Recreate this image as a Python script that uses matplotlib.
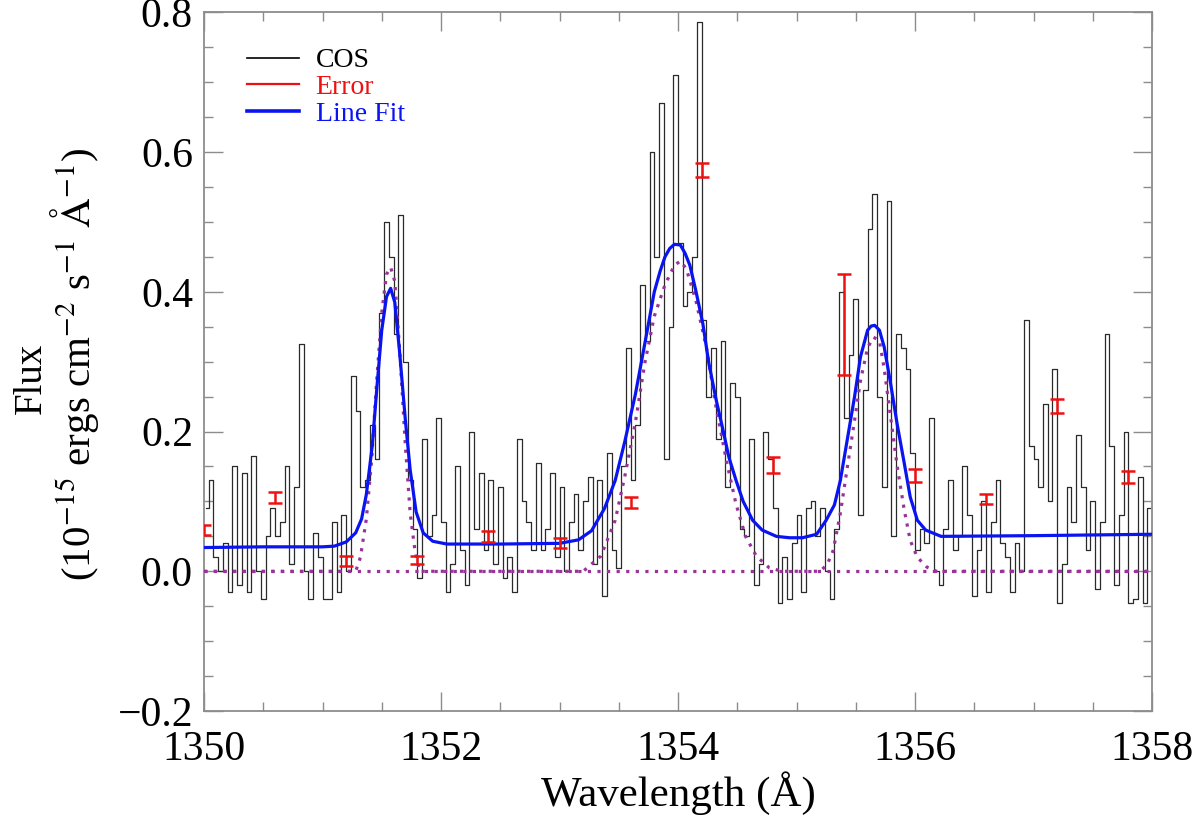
import numpy as np
import matplotlib
matplotlib.use('Agg')
import matplotlib.pyplot as plt
from matplotlib.lines import Line2D
from matplotlib.ticker import MultipleLocator, FuncFormatter

plt.rcParams['font.family'] = ['Liberation Serif', 'DejaVu Serif']
plt.rcParams['mathtext.fontset'] = 'stix'

# COS spectrum, 0.04 A bins (bin centres)
cos_wave = np.round(1350.02 + 0.04 * np.arange(200), 2)
cos_flux = [
    0.09, 0.13, 0.02, 0.0, 0.04, -0.03, 0.15, -0.02, 0.14, -0.03,
    0.165, 0.0, -0.04, 0.05, 0.09, 0.05, 0.07, 0.15, 0.01, 0.12,
    0.325, 0.0, -0.04, 0.055, 0.02, -0.04, -0.04, 0.07, -0.03, 0.08,
    0.0, 0.28, 0.23,
    0.12, 0.13, 0.21, 0.16, 0.37, 0.50, 0.45,
    0.34, 0.51, 0.30, 0.13, 0.06, -0.01, 0.19, 0.05, 0.08, 0.22,
    0.07, -0.03, 0.01, 0.15, 0.03, -0.02, 0.20, 0.06, 0.14, 0.03,
    0.13, 0.01, 0.12, -0.01, 0.02, -0.03, 0.19,
    0.10, 0.07, 0.03,
    0.155, 0.03, 0.06, 0.14, 0.02, 0.12, 0.0, 0.07, 0.11, 0.03,
    0.10, 0.135, 0.01, 0.13, -0.035, 0.17, 0.03, 0.005, 0.15, 0.32,
    0.13, 0.21, 0.41, 0.33, 0.60, 0.45, 0.67, 0.16, 0.35, 0.71,
    0.47, 0.38, 0.40, 0.45, 0.786, 0.36, 0.25, 0.32, 0.19, 0.33,
    0.12, 0.27, 0.25, 0.06, 0.05, 0.19, -0.02, 0.01, 0.20, 0.16,
    0.09, -0.045, 0.02, -0.04, 0.04, 0.08, -0.03, 0.09, 0.10, 0.05,
    0.09, 0.0, -0.04, 0.06,
    0.40, 0.22, 0.31, 0.39, 0.08, 0.26,
    0.49, 0.54, 0.25, 0.12, 0.53, 0.05, 0.34, 0.32, 0.29, 0.17,
    0.03, 0.06, 0.04, 0.22, 0.0, -0.02, 0.06, 0.13, 0.03, 0.05,
    0.15, 0.08, -0.035, 0.03, 0.10, -0.03, 0.07,
    0.13, 0.04, 0.02,
    -0.03, 0.04, 0.0, 0.36, 0.18, 0.16, 0.12, 0.24, 0.10, 0.29,
    -0.045, 0.01, 0.12, 0.07, 0.195, 0.12, 0.03, 0.10, -0.025, 0.07,
    0.34, 0.18, -0.02, 0.08, 0.20, -0.045, -0.04, 0.135, -0.045, 0.09,
]

# error bars
err_wave = [1350.0, 1350.6, 1351.2, 1351.8, 1352.4, 1353.0, 1353.6,
            1354.2, 1354.8, 1355.4, 1356.0, 1356.6, 1357.2, 1357.8]
err_flux = [0.059, 0.106, 0.015, 0.016, 0.050, 0.041, 0.098,
            0.575, 0.152, 0.353, 0.137, 0.104, 0.236, 0.135]
err_size = [0.007, 0.008, 0.007, 0.006, 0.008, 0.007, 0.008,
            0.010, 0.011, 0.072, 0.009, 0.007, 0.010, 0.009]

# line fit (blue)
fit_wave = [1350.0, 1350.5, 1351.0, 1351.10, 1351.20, 1351.28, 1351.33, 1351.37,
            1351.42, 1351.46, 1351.50, 1351.54, 1351.575, 1351.61, 1351.65, 1351.70,
            1351.74, 1351.79, 1351.85, 1351.93, 1352.05, 1352.5,
            1353.00, 1353.16, 1353.27, 1353.38, 1353.47, 1353.55, 1353.64, 1353.72,
            1353.80, 1353.85, 1353.89, 1353.93, 1353.97, 1354.02, 1354.06, 1354.10,
            1354.15, 1354.21, 1354.26,
            1354.32, 1354.38, 1354.43, 1354.49, 1354.55, 1354.63, 1354.71, 1354.83,
            1354.94, 1355.05, 1355.17, 1355.25,
            1355.32, 1355.37, 1355.43, 1355.49, 1355.54, 1355.60, 1355.63, 1355.66,
            1355.70, 1355.74, 1355.79, 1355.85, 1355.91, 1355.96, 1356.02, 1356.09,
            1356.22, 1357.0, 1357.5, 1358.0]
fit_flux = [0.034, 0.035, 0.035, 0.036, 0.042, 0.055, 0.075, 0.11,
            0.18, 0.265, 0.345, 0.393, 0.405, 0.385, 0.315, 0.215,
            0.145, 0.085, 0.055, 0.043, 0.039, 0.039,
            0.040, 0.045, 0.058, 0.090, 0.130, 0.185, 0.253, 0.326,
            0.400, 0.430, 0.450, 0.462, 0.468, 0.467, 0.455, 0.438,
            0.402, 0.354, 0.298,
            0.247, 0.202, 0.163, 0.130, 0.100, 0.073, 0.059, 0.050,
            0.048, 0.048, 0.053, 0.073,
            0.095, 0.13, 0.19, 0.25, 0.307, 0.345, 0.351, 0.352,
            0.345, 0.321, 0.273, 0.210, 0.154, 0.106, 0.073, 0.059,
            0.050, 0.051, 0.052, 0.053]

# intrinsic line profiles (purple dotted)
prof_wave = [1350.0, 1351.28, 1351.32, 1351.37, 1351.415, 1351.456, 1351.50, 1351.54,
             1351.575, 1351.61, 1351.65, 1351.70, 1351.74, 1351.78, 1351.82,
             1353.20, 1353.35, 1353.47, 1353.55, 1353.64, 1353.72, 1353.80, 1353.89,
             1353.97, 1354.02, 1354.07, 1354.15, 1354.24, 1354.32, 1354.41, 1354.49,
             1354.57, 1354.66, 1354.77, 1354.88,
             1355.20, 1355.26, 1355.31, 1355.37, 1355.43, 1355.49, 1355.54, 1355.60,
             1355.65, 1355.70, 1355.74, 1355.79, 1355.85, 1355.91, 1355.96, 1356.02,
             1356.10, 1356.18, 1358.0]
prof_flux = [0.0, 0.0, 0.02, 0.075, 0.16, 0.27, 0.37, 0.425,
             0.435, 0.415, 0.32, 0.178, 0.083, 0.03, 0.0,
             0.0, 0.022, 0.073, 0.135, 0.213, 0.298, 0.365, 0.41,
             0.438, 0.444, 0.433, 0.388, 0.32, 0.236, 0.157, 0.096,
             0.05, 0.022, 0.005, 0.0,
             0.0, 0.01, 0.03, 0.083, 0.15, 0.216, 0.273, 0.32,
             0.335, 0.33, 0.29, 0.226, 0.15, 0.087, 0.044, 0.02,
             0.006, 0.0, 0.0]

zero_wave = [1350.0, 1358.0]
zero_flux = [0.0, 0.0]

purple = '#993399'
grey = '#8c8c8c'
red = '#ee1111'
blue = '#0a14f0'

fig = plt.figure(figsize=(12, 8.22), dpi=100)
ax = fig.add_axes([0.170, 0.135, 0.790, 0.850])

ax.step(cos_wave, cos_flux, where='mid', color='#2a2a2a', lw=0.9, zorder=2)
ax.plot(zero_wave, zero_flux, color=purple, lw=2.3, ls=(0, (1, 2.0)), zorder=3)
ax.plot(prof_wave, prof_flux, color=purple, lw=2.3, ls=(0, (1, 2.0)), zorder=3)
ax.plot(fit_wave, fit_flux, color=blue, lw=2.3, zorder=4)
ax.errorbar(err_wave, err_flux, yerr=err_size, fmt='none', ecolor=red,
            elinewidth=1.8, capsize=4.8, capthick=1.8, zorder=5)

ax.set_xlim(1350, 1358)
ax.set_ylim(-0.2, 0.8)
ax.xaxis.set_major_locator(MultipleLocator(2))
ax.xaxis.set_minor_locator(MultipleLocator(0.5))
ax.yaxis.set_major_locator(MultipleLocator(0.2))
ax.yaxis.set_minor_locator(MultipleLocator(0.05))
ax.xaxis.set_major_formatter(FuncFormatter(lambda v, p: '%d' % round(v)))
ax.yaxis.set_major_formatter(FuncFormatter(lambda v, p: ('%.1f' % v).replace('-', '\u2212')))

ax.tick_params(which='both', direction='in', top=True, right=True, color=grey, width=1.0)
ax.tick_params(which='major', length=14, labelsize=30)
ax.tick_params(which='minor', length=6.5)
ax.tick_params(axis='x', which='major', pad=14)
ax.tick_params(axis='y', which='major', pad=8)
for sp in ax.spines.values():
    sp.set_color(grey)
    sp.set_linewidth(1.3)

ax.set_xlabel('Wavelength (Å)', fontsize=31, labelpad=2)

fig.text(31 / 1200, 1 - 378 / 822, 'Flux', rotation=90, fontsize=28,
         ha='center', va='center')
fig.text(75 / 1200, 1 - 364 / 822,
         r'(10$^{-15}$ ergs cm$^{-2}$ s$^{-1}$ $\mathrm{\AA}^{-1}$)',
         rotation=90, fontsize=29.5, ha='center', va='center')

handles = [Line2D([], [], color='black', lw=1.2),
           Line2D([], [], color=red, lw=1.6),
           Line2D([], [], color=blue, lw=2.6)]
leg = ax.legend(handles, ['COS', 'Error', 'Line Fit'], loc='upper left',
                bbox_to_anchor=(0.045, 0.949), frameon=False, fontsize=20,
                handlelength=1.9, handletextpad=0.58, labelspacing=0.04,
                borderpad=0, borderaxespad=0)
for txt, c in zip(leg.get_texts(), ['black', red, blue]):
    txt.set_color(c)

fig.savefig('out.png', dpi=100)
